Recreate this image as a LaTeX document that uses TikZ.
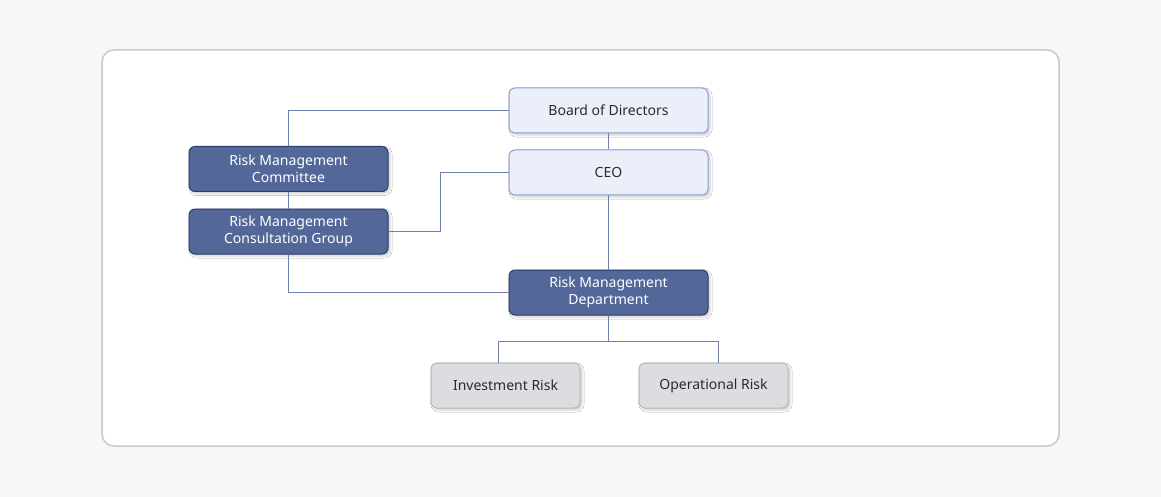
\documentclass[tikz,border=0pt]{standalone}
\usepackage{fontspec}
\setmainfont{Noto Sans}
\usetikzlibrary{shadows.blur}
\definecolor{bg}{HTML}{F7F7F7}
\definecolor{panelb}{HTML}{C8C8CC}
\definecolor{lightf}{HTML}{EAEFFA}
\definecolor{lightb}{HTML}{8C9FD0}
\definecolor{darkf}{HTML}{536899}
\definecolor{darkb}{HTML}{2C3E6E}
\definecolor{grayf}{HTML}{DCDDE0}
\definecolor{grayb}{HTML}{B8B9BD}
\definecolor{txt}{HTML}{2A2A2A}
\definecolor{conn}{HTML}{7080A8}
\begin{document}
\begin{tikzpicture}[x=1pt,y=-1pt,
  box/.style={rounded corners=6pt,line width=1pt,minimum width=199pt,minimum height=45pt,align=center,inner sep=0pt,font=\fontsize{14}{17}\selectfont,blur shadow={shadow xshift=2pt,shadow yshift=-2pt,shadow blur steps=4,shadow opacity=20}},
  light/.style={box,fill=lightf,draw=lightb,text=txt},
  dark/.style={box,fill=darkf,draw=darkb,text=white,font=\fontsize{14}{17}\selectfont\bfseries},
  grey/.style={box,fill=grayf,draw=grayb,text=txt,minimum width=149pt},
  ln/.style={draw=conn,line width=0.8pt}]
\useasboundingbox (0,0) rectangle (1161,497);
\fill[bg] (0,0) rectangle (1161,497);
\draw[panelb,fill=white,line width=1.5pt,rounded corners=12pt] (102,50) rectangle (1059,446);
\node[light] (bod) at (608.5,110.5) {Board of Directors};
\node[light] (ceo) at (608.5,172.5) {CEO};
\node[dark] (rmc) at (288.5,169) {Risk Management\\Committee};
\node[dark] (rmcg) at (288.5,231.5) {Risk Management\\Consultation Group};
\node[dark] (rmd) at (608.5,292.5) {Risk Management\\Department};
\node[grey] (inv) at (505.5,385.5) {Investment Risk};
\node[grey] (ops) at (713.5,385.5) {Operational Risk};
\coordinate (j) at (608.5,341);
\draw[ln] (bod.west) -| (rmc.north);
\draw[ln] (bod.south) -- (ceo.north);
\draw[ln] (rmc.south) -- (rmcg.north);
\draw[ln] (rmcg.east) -- (440,231.5) |- (ceo.west);
\draw[ln] (ceo.south) -- (rmd.north);
\draw[ln] (rmcg.south) |- (rmd.west);
\draw[ln] (rmd.south) -- (j);
\draw[ln] (j) -| (498,363);
\draw[ln] (j) -| (718,363);
\end{tikzpicture}
\end{document}
